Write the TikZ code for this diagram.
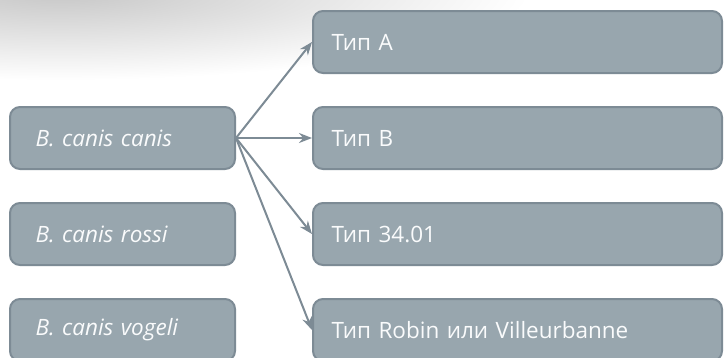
\documentclass[tikz,border=0pt]{standalone}
\usepackage{fontspec}
\setmainfont{Open Sans}
\usetikzlibrary{arrows.meta}
\definecolor{boxfill}{RGB}{152,166,174}
\definecolor{boxline}{RGB}{125,139,149}
\definecolor{boxtext}{RGB}{250,251,252}
\tikzset{
  leftbox/.style={draw=boxline, fill=boxfill, line width=2pt, rounded corners=10pt,
    minimum width=225pt, minimum height=62pt, text width=174pt, align=left,
    inner xsep=25pt, text=boxtext, font=\fontsize{22.5}{26}\selectfont\itshape},
  rightbox/.style={draw=boxline, fill=boxfill, line width=2pt, rounded corners=10pt,
    minimum width=409pt, minimum height=62pt, text width=372pt, align=left,
    inner xsep=18pt, text=boxtext, font=\fontsize{22.5}{26}\selectfont},
  conn/.style={draw=boxline, line width=2pt, -{Stealth[length=13pt,width=10pt]}}
}
\begin{document}
\begin{tikzpicture}[x=1pt,y=-1pt]
\useasboundingbox (0,0) rectangle (724,357);
\clip (0,0) rectangle (724,357);
\fill[white] (0,0) rectangle (724,357);
\shade[inner color=black!22, outer color=white] (60,-8) ellipse (470 and 88);
\node[leftbox] (cc) at (122.5,138) {B. canis canis};
\node[leftbox] (cr) at (122.5,234) {B. canis rossi};
\node[leftbox] (cv) at (122.5,330) {B. canis vogeli};
\node[rightbox] (ta) at (517.5,42) {Тип A};
\node[rightbox] (tb) at (517.5,138) {Тип B};
\node[rightbox] (tc) at (517.5,234) {Тип 34.01};
\node[rightbox] (td) at (517.5,330) {Тип Robin или Villeurbanne};
\draw[conn] (cc.east) -- (ta.west);
\draw[conn] (cc.east) -- (tb.west);
\draw[conn] (cc.east) -- (tc.west);
\draw[conn] (cc.east) -- (td.west);
\end{tikzpicture}
\end{document}
